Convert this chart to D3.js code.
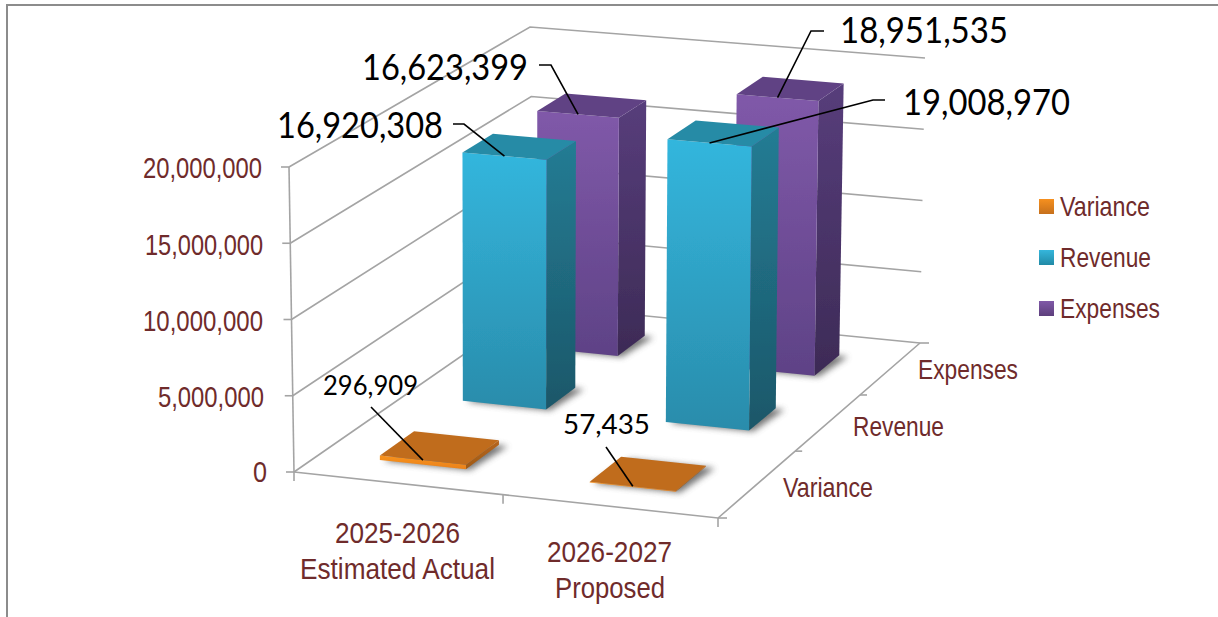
<!DOCTYPE html>
<html>
<head>
<meta charset="utf-8">
<script src="https://cdn.jsdelivr.net/npm/d3@7"></script>
<style>
html,body{margin:0;padding:0;background:#fff;overflow:hidden}
svg{display:block}
text{font-family:"Liberation Sans Narrow","Liberation Sans",Arial,sans-serif;fill:#6f2b2b}
text.dl{font-family:Lato,"Open Sans",sans-serif;fill:#000}
</style>
</head>
<body>
<svg id="c" width="1218" height="617"></svg>
<script>
// ---- data ----
const categories = ["2025-2026 Estimated Actual", "2026-2027 Proposed"];
const seriesNames = ["Variance", "Revenue", "Expenses"];
const variance = [296909, 57435];
const revenue = [16920308, 19008970];
const expenses = [16623399, 18951535];
const valueTicks = [0, 5000000, 10000000, 15000000, 20000000];

// ---- styles ----
const palette = {
  Variance: {front:["#f8921f","#ea8219"], side:["#b5651b","#a05a18"], top:"#c06c1d", legend:["#f6901f","#c6701c"]},
  Revenue:  {front:["#33b6dd","#2a8cab"], side:["#247c94","#1b5769"], top:"#278ba6", legend:["#35b6dc","#218aa6"]},
  Expenses: {front:["#8059a9","#5e4286"], side:["#573d7b","#3d2b56"], top:"#604284", legend:["#8059a8","#5d3f7c"]}
};

// ---- layout: 3D frame corners as seen in the picture ----
const floorFL=[294,472], floorFR=[718,518], floorBR=[920,343], floorBL=[535,305];
const topFL=[289,167], topFR=[718,205], topBR=[925,58], topBL=[530,27];
// bars stand more upright than the walls lean
const barTopFL=[292,167], barTopFR=[719,205], barTopBR=[926,58], barTopBL=[535,27];

const mix=(a,b,k)=>[a[0]+(b[0]-a[0])*k, a[1]+(b[1]-a[1])*k];
const bilerp=(fl,fr,bl,br,u,t)=>mix(mix(fl,fr,u),mix(bl,br,u),t);

// value -> height fraction
const yScale=d3.scaleLinear().domain([0,20000000]).range([0,1]);
// category -> fraction along width
const xBand=d3.scaleBand().domain(categories).range([-0.006,0.994]).paddingInner(0.59).paddingOuter(0.295);
// series -> depth position (in series units), then perspective foreshortening
const zBand=d3.scaleBand().domain(seriesNames).range([-0.05,2.95]).paddingInner(0.6).paddingOuter(0.3);
const zPersp=d3.scaleLinear().domain([0,0.25,1,2,3]).range([0,0.11,0.382,0.703,1]);

function project(u,v,t){
  const f=bilerp(floorFL,floorFR,floorBL,floorBR,u,t);
  const c=bilerp(topFL,topFR,topBL,topBR,u,t);
  return mix(f,c,yScale(v));
}
function projectBar(u,v,t){
  const f=bilerp(floorFL,floorFR,floorBL,floorBR,u,t);
  const c=bilerp(barTopFL,barTopFR,barTopBL,barTopBR,u,t);
  return mix(f,c,yScale(v));
}

const svg=d3.select("#c");
const defs=svg.append("defs");
defs.append("filter").attr("id","soft").attr("x","-5%").attr("y","-5%").attr("width","110%").attr("height","110%")
  .append("feGaussianBlur").attr("stdDeviation",0.45);
defs.append("filter").attr("id","shadow").attr("x","-30%").attr("y","-30%").attr("width","160%").attr("height","160%")
  .append("feGaussianBlur").attr("stdDeviation",3);
function grad(id,c){
  const g=defs.append("linearGradient").attr("id",id).attr("x1",0).attr("y1",0).attr("x2",0).attr("y2",1);
  g.append("stop").attr("offset",0).attr("stop-color",c[0]);
  g.append("stop").attr("offset",1).attr("stop-color",c[1]);
}
seriesNames.forEach(s=>{
  grad("f"+s,palette[s].front); grad("s"+s,palette[s].side); grad("l"+s,palette[s].legend);
});

// chart border (top and left only)
svg.append("path").attr("d","M7,617V5H1218").attr("fill","none").attr("stroke","#8c8c8c").attr("stroke-width",2);

const frame=svg.append("g").attr("filter","url(#soft)");
const gridColor="#a4a4a4";
const line=d3.line();
function stroke(pts,w){frame.append("path").attr("d",line(pts)).attr("fill","none").attr("stroke",gridColor).attr("stroke-width",w||1.6);}

// gridlines on both walls
valueTicks.forEach(v=>{
  stroke([project(0,v,0),project(0,v,1),project(1,v,1)]);
  const p=project(0,v,0);
  stroke([[p[0]-8,p[1]],p]);
});
// vertical axis, front floor edge, right floor edge
stroke([project(0,0,0),project(0,20000000,0)]);
stroke([project(0,0,0),project(1,0,0),project(1,0,1)]);
// tick marks
[0,0.493,1].forEach(u=>{const p=project(u,0,0); stroke([p,[p[0],p[1]+9]]);});
[0,1,2,3].forEach(s=>{const p=project(1,0,zPersp(s)); stroke([p,[p[0]+(s===0||s===3?9:7),p[1]]]);});

// bars
const seriesValues={Variance:variance,Revenue:revenue,Expenses:expenses};
const shadows=svg.append("g"), bars=svg.append("g").attr("filter","url(#soft)");
const poly=a=>a.map(p=>p.join(",")).join(" ");
const barList=[];
[...seriesNames].reverse().forEach(s=>{
  seriesValues[s].forEach((val,i)=>{
    const c=categories[i];
    const u0=xBand(c), u1=u0+xBand.bandwidth();
    const zs=zBand(s);
    const t0=zPersp(zs), t1=zPersp(zs+zBand.bandwidth());
    const P=projectBar;
    shadows.append("polygon")
      .attr("points",poly([P(u0,0,t0),P(u1,0,t0),P(u1+0.012,0,t1),P(u0+0.012,0,t1)]))
      .attr("transform","translate(4,1)")
      .attr("fill","#555").attr("opacity",0.8).attr("filter","url(#shadow)");
    const g=bars.append("g");
    g.append("polygon").attr("points",poly([P(u1,0,t0),P(u1,0,t1),P(u1,val,t1),P(u1,val,t0)])).attr("fill",`url(#s${s})`);
    g.append("polygon").attr("points",poly([P(u0,0,t0),P(u1,0,t0),P(u1,val,t0),P(u0,val,t0)])).attr("fill",`url(#f${s})`);
    g.append("polygon").attr("points",poly([P(u0,val,t0),P(u1,val,t0),P(u1,val,t1),P(u0,val,t1)])).attr("fill",palette[s].top);
    barList.push({s,i,val,end:P((u0+u1)/2,val,t0)});
  });
});

// fitted text helper
function label(x,y,str,len,size,cls){
  const t=svg.append("text").attr("x",x).attr("y",y).attr("font-size",size)
    .attr("textLength",len).attr("lengthAdjust","spacingAndGlyphs").text(str);
  if(cls)t.attr("class",cls);
  return t;
}

// value axis labels
const fmt=d3.format(",");
const valueLabelLayout={0:[253,14,482],5000000:[158,106,407],10000000:[143,120,331],15000000:[145,118,255],20000000:[143,119,178]};
valueTicks.forEach(v=>{const l=valueLabelLayout[v]; label(l[0],l[2],fmt(v),l[1],30);});

// category labels
const categoryLines=[["2025-2026","Estimated Actual"],["2026-2027","Proposed"]];
const categoryLayout=[[[335,543,125],[300,579,195]],[[547,562,125],[555,598,110]]];
categoryLines.forEach((ls,i)=>ls.forEach((str,j)=>{const l=categoryLayout[i][j]; label(l[0],l[1],str,l[2],30);}));

// depth labels
const depthLayout={Variance:[783,497,90],Revenue:[853,436,91],Expenses:[918,379,100]};
seriesNames.forEach(s=>{const l=depthLayout[s]; label(l[0],l[1],s,l[2],28);});

// legend
const legendY={Variance:199,Revenue:250,Expenses:301};
const legendLen={Variance:90,Revenue:91,Expenses:100};
seriesNames.forEach(s=>{
  svg.append("rect").attr("x",1039).attr("y",legendY[s]).attr("width",15).attr("height",15).attr("fill",`url(#l${s})`);
  label(1060,legendY[s]+17,s,legendLen[s],28);
});

// data labels with leader lines (leader ends at the front-top edge of each bar)
const dataLabelLayout={
  "Expenses0":{x:362,y:80,len:166,size:37,lead:[[539,65],[551,65]]},
  "Expenses1":{x:840,y:43,len:168,size:37,lead:[[824,31],[811,31]]},
  "Revenue0":{x:277,y:138,len:166,size:37,lead:[[453,124],[464,124]]},
  "Revenue1":{x:903,y:115,len:167,size:37,lead:[[885,100],[873,100]]},
  "Variance0":{x:323,y:395,len:95,size:26,lead:[[371,407]]},
  "Variance1":{x:563,y:434,len:87,size:27,lead:[[606,447]]}
};
barList.forEach(b=>{
  const l=dataLabelLayout[b.s+b.i];
  svg.append("path").attr("d",line([...l.lead,b.end])).attr("fill","none").attr("stroke","#000").attr("stroke-width",1.6);
  label(l.x,l.y,fmt(b.val),l.len,l.size,"dl");
});
</script>
</body>
</html>
